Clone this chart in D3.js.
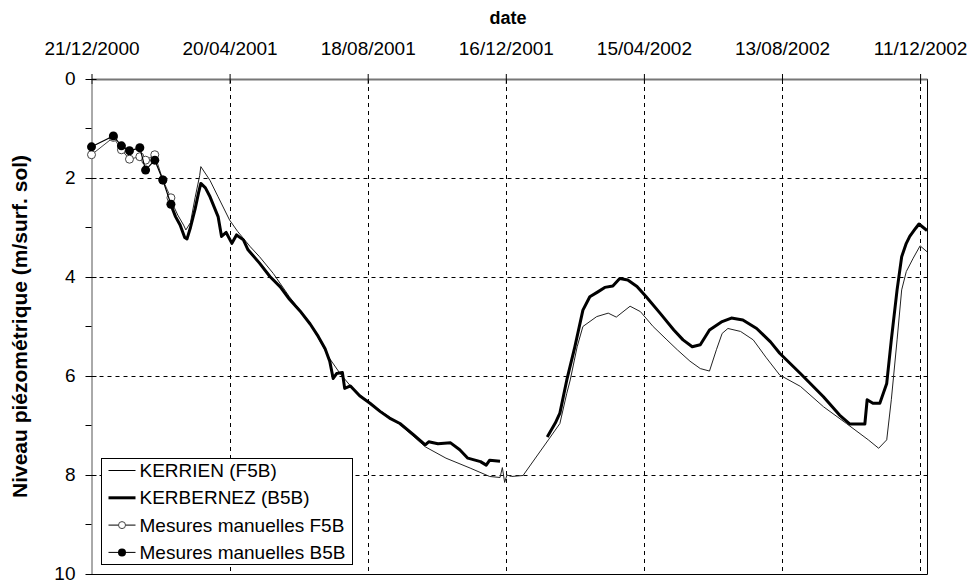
<!DOCTYPE html>
<html>
<head>
<meta charset="utf-8">
<script src="https://cdn.jsdelivr.net/npm/d3@7"></script>
<style>
  body { margin: 0; background: #fff; }
  text { font-family: "Liberation Sans", Arial, sans-serif; fill: #000; }
</style>
</head>
<body>
<svg id="chart" width="968" height="581"></svg>
<script>
// manual measurements
const manualDates = ["2000-12-21","2001-01-09","2001-01-16","2001-01-23","2001-02-01","2001-02-06","2001-02-14","2001-02-21","2001-02-28"];
const manualF5B = [1.53, 1.18, 1.43, 1.62, 1.57, 1.64, 1.53, 2.04, 2.40];
const manualB5B = [1.37, 1.15, 1.35, 1.45, 1.39, 1.84, 1.64, 2.04, 2.53];

// KERRIEN (F5B) recorder
const kerrienDates = ["2001-03-01","2001-03-06","2001-03-11","2001-03-13","2001-03-17","2001-03-21","2001-03-25","2001-03-26",
  "2001-04-03","2001-04-10","2001-04-20","2001-04-27","2001-05-08","2001-05-16","2001-05-28","2001-06-11","2001-06-29",
  "2001-07-16","2001-07-25","2001-08-03","2001-08-11","2001-08-29","2001-09-15","2001-10-07","2001-10-25","2001-11-15",
  "2001-12-02","2001-12-11","2001-12-13","2001-12-15","2001-12-17","2001-12-21","2001-12-31","2002-01-22","2002-02-01",
  "2002-02-07","2002-02-10","2002-02-16","2002-02-21","2002-03-05","2002-03-15","2002-03-22","2002-04-03","2002-04-12",
  "2002-04-23","2002-05-05","2002-05-14","2002-05-25","2002-06-03","2002-06-11","2002-06-17","2002-06-22","2002-06-27",
  "2002-07-08","2002-07-19","2002-07-30","2002-08-11","2002-08-29","2002-09-18","2002-10-08","2002-10-27","2002-11-05",
  "2002-11-12","2002-11-16","2002-11-21","2002-11-25","2002-11-29","2002-12-05","2002-12-11","2002-12-17"];
const kerrienValues = [2.50, 2.75, 2.95, 3.05, 2.90, 2.40, 1.95, 1.77,
  2.05, 2.38, 2.85, 3.08, 3.39, 3.59, 3.93, 4.40, 4.93,
  5.65, 5.95, 6.20, 6.38, 6.70, 6.98, 7.43, 7.66, 7.86,
  8.03, 8.05, 7.85, 8.15, 8.00, 8.03, 8.01, 7.29, 6.96,
  6.35, 6.08, 5.41, 5.00, 4.80, 4.73, 4.81, 4.59, 4.70,
  5.00, 5.27, 5.47, 5.70, 5.85, 5.90, 5.47, 5.14, 5.04,
  5.10, 5.27, 5.62, 5.98, 6.21, 6.62, 6.96, 7.29, 7.46,
  7.29, 6.48, 5.27, 4.26, 3.89, 3.62, 3.37, 3.49];

// KERBERNEZ (B5B) recorder, null = gap
const kerbernezDates = ["2001-03-01","2001-03-04","2001-03-08","2001-03-12","2001-03-14","2001-03-17","2001-03-21","2001-03-24",
  "2001-03-26","2001-03-30","2001-04-03","2001-04-10","2001-04-13","2001-04-17","2001-04-22","2001-04-26","2001-05-02",
  "2001-05-06","2001-05-16","2001-05-25","2001-06-03","2001-06-11","2001-06-20","2001-06-29","2001-07-06","2001-07-12",
  "2001-07-16","2001-07-19","2001-07-22","2001-07-27","2001-07-29","2001-08-03","2001-08-11","2001-08-20","2001-08-29",
  "2001-09-06","2001-09-15","2001-09-27","2001-10-07","2001-10-10","2001-10-18","2001-10-29","2001-11-06","2001-11-13",
  "2001-11-24","2001-11-29","2001-12-02","2001-12-11","2001-12-30","2002-01-21","2002-01-28","2002-02-01","2002-02-07",
  "2002-02-14","2002-02-21","2002-02-27","2002-03-06","2002-03-12","2002-03-19","2002-03-25","2002-04-01","2002-04-09",
  "2002-04-17","2002-04-29","2002-05-11","2002-05-19","2002-05-27","2002-06-03","2002-06-11","2002-06-22","2002-06-30",
  "2002-07-10","2002-07-22","2002-08-03","2002-08-11","2002-08-29","2002-09-18","2002-10-02","2002-10-11","2002-10-24",
  "2002-10-26","2002-10-31","2002-11-06","2002-11-12","2002-11-16","2002-11-21","2002-11-25","2002-11-29","2002-12-02",
  "2002-12-07","2002-12-10","2002-12-17"];
const kerbernezValues = [2.60, 2.78, 2.95, 3.20, 3.23, 3.00, 2.63, 2.30,
  2.11, 2.20, 2.38, 2.78, 3.18, 3.10, 3.32, 3.15, 3.25,
  3.45, 3.72, 3.99, 4.20, 4.45, 4.68, 4.95, 5.20, 5.45,
  5.70, 6.05, 5.95, 5.93, 6.25, 6.20, 6.40, 6.55, 6.72,
  6.85, 6.96, 7.19, 7.39, 7.33, 7.37, 7.35, 7.49, 7.66,
  7.73, 7.80, 7.70, 7.72, null, 7.23, 6.95, 6.75, 6.08,
  5.41, 4.67, 4.40, 4.30, 4.21, 4.18, 4.03, 4.06, 4.19,
  4.40, 4.73, 5.07, 5.27, 5.41, 5.37, 5.07, 4.90, 4.83,
  4.87, 5.04, 5.31, 5.54, 5.95, 6.42, 6.79, 6.97, 6.97,
  6.48, 6.55, 6.55, 6.15, 5.27, 4.26, 3.59, 3.32, 3.18,
  3.02, 2.93, 3.06];

const xTicks = ["2000-12-21","2001-04-20","2001-08-18","2001-12-16","2002-04-15","2002-08-13","2002-12-11"];
const yTicks = [0, 2, 4, 6, 8, 10];
const yMinorTicks = [1, 3, 5, 7, 9];
const legendLabels = ["KERRIEN (F5B)", "KERBERNEZ (B5B)", "Mesures manuelles F5B", "Mesures manuelles B5B"];

const parse = d3.utcParse("%Y-%m-%d");
const fmt = d3.utcFormat("%d/%m/%Y");

const svg = d3.select("#chart");
const pLeft = 91.5, pRight = 927, pTop = 79, pBottom = 574;

const x = d3.scaleUtc()
    .domain([parse("2000-12-21"), parse("2002-12-17")])
    .range([pLeft, pRight]);
const y = d3.scaleLinear().domain([0, 10]).range([pTop, pBottom]);

// grid
svg.append("g")
    .selectAll("line")
    .data(xTicks.slice(1))
    .enter().append("line")
    .attr("x1", d => Math.round(x(parse(d))) + 0.5)
    .attr("x2", d => Math.round(x(parse(d))) + 0.5)
    .attr("y1", pTop).attr("y2", pBottom)
    .attr("stroke", "#000").attr("stroke-dasharray", "4,4");
svg.append("g")
    .selectAll("line")
    .data(yTicks.slice(1, -1))
    .enter().append("line")
    .attr("x1", pLeft).attr("x2", pRight)
    .attr("y1", d => Math.round(y(d)) + 0.5)
    .attr("y2", d => Math.round(y(d)) + 0.5)
    .attr("stroke", "#000").attr("stroke-dasharray", "4,4");

// plot frame (right + bottom)
svg.append("path")
    .attr("d", `M${pRight + 0.5},${pTop}V${pBottom + 0.5}H${pLeft}`)
    .attr("fill", "none").attr("stroke", "#000");

// top date axis
const xAxis = d3.axisTop(x)
    .tickValues(xTicks.map(parse))
    .tickFormat(fmt)
    .tickSizeInner(5).tickSizeOuter(0).tickPadding(19);
const gx = svg.append("g").attr("transform", `translate(0,${pTop})`).call(xAxis);
gx.select(".domain").attr("stroke", "#777").attr("stroke-width", 2);
gx.selectAll(".tick line").attr("y2", 5).attr("y1", -5).attr("stroke", "#000");
gx.selectAll(".tick text").attr("font-size", 19).attr("font-family", "Liberation Sans, Arial, sans-serif");

// left depth axis
const yAxis = d3.axisLeft(y)
    .tickValues(yTicks)
    .tickSizeInner(6).tickSizeOuter(0).tickPadding(10);
const gy = svg.append("g").attr("transform", `translate(${pLeft},0)`).call(yAxis);
gy.select(".domain").attr("stroke", "#555");
gy.selectAll(".tick line").attr("x1", 5).attr("stroke", "#000");
gy.selectAll(".tick text").attr("font-size", 19).attr("font-family", "Liberation Sans, Arial, sans-serif")
    .attr("dy", "0.3em");
gy.append("g").selectAll("line")
    .data(yMinorTicks)
    .enter().append("line")
    .attr("x1", -6).attr("x2", 0)
    .attr("y1", d => y(d)).attr("y2", d => y(d))
    .attr("stroke", "#000");

// titles
svg.append("text")
    .attr("x", 508).attr("y", 24)
    .attr("text-anchor", "middle")
    .attr("font-weight", "bold").attr("font-size", 18)
    .text("date");
svg.append("text")
    .attr("transform", `translate(27,${(pTop + pBottom) / 2}) rotate(-90)`)
    .attr("text-anchor", "middle")
    .attr("font-weight", "bold").attr("font-size", 21)
    .text("Niveau piézométrique (m/surf. sol)");

const series = (dates, values) => dates.map((d, i) => ({ date: parse(d), v: values[i] }));
const line = d3.line()
    .defined(d => d.v != null)
    .x(d => x(d.date))
    .y(d => y(d.v));

const plot = svg.append("g");
plot.append("path")
    .datum(series(kerrienDates, kerrienValues))
    .attr("d", line)
    .attr("fill", "none").attr("stroke", "#222").attr("stroke-width", 1);
plot.append("path")
    .datum(series(kerbernezDates, kerbernezValues))
    .attr("d", line)
    .attr("fill", "none").attr("stroke", "#000").attr("stroke-width", 3)
    .attr("stroke-linejoin", "round");

const manF = series(manualDates, manualF5B);
const manB = series(manualDates, manualB5B);
plot.append("path").datum(manF).attr("d", line)
    .attr("fill", "none").attr("stroke", "#444").attr("stroke-width", 1);
plot.selectAll(".mf").data(manF).enter().append("circle")
    .attr("class", "mf")
    .attr("cx", d => x(d.date)).attr("cy", d => y(d.v)).attr("r", 4)
    .attr("fill", "#fff").attr("stroke", "#444");
plot.append("path").datum(manB).attr("d", line)
    .attr("fill", "none").attr("stroke", "#000").attr("stroke-width", 1.2);
plot.selectAll(".mb").data(manB).enter().append("circle")
    .attr("class", "mb")
    .attr("cx", d => x(d.date)).attr("cy", d => y(d.v)).attr("r", 4.5)
    .attr("fill", "#000");

// legend
const lg = svg.append("g").attr("transform", "translate(101.5,458.5)");
lg.append("rect").attr("width", 251).attr("height", 106)
    .attr("fill", "#fff").attr("stroke", "#000");
const items = lg.selectAll(".item").data(legendLabels).enter().append("g")
    .attr("transform", (d, i) => `translate(0,${12 + i * 27.3})`);
items.append("line").attr("x1", 7).attr("x2", 34)
    .attr("stroke", "#000")
    .attr("stroke-width", (d, i) => i === 1 ? 3 : 1);
items.filter((d, i) => i === 2).append("circle")
    .attr("cx", 20.5).attr("r", 3.5).attr("fill", "#fff").attr("stroke", "#444");
items.filter((d, i) => i === 3).append("circle")
    .attr("cx", 20.5).attr("r", 4).attr("fill", "#000");
items.append("text").attr("x", 38).attr("dy", "0.35em")
    .attr("font-size", 19)
    .text(d => d);
</script>
</body>
</html>
